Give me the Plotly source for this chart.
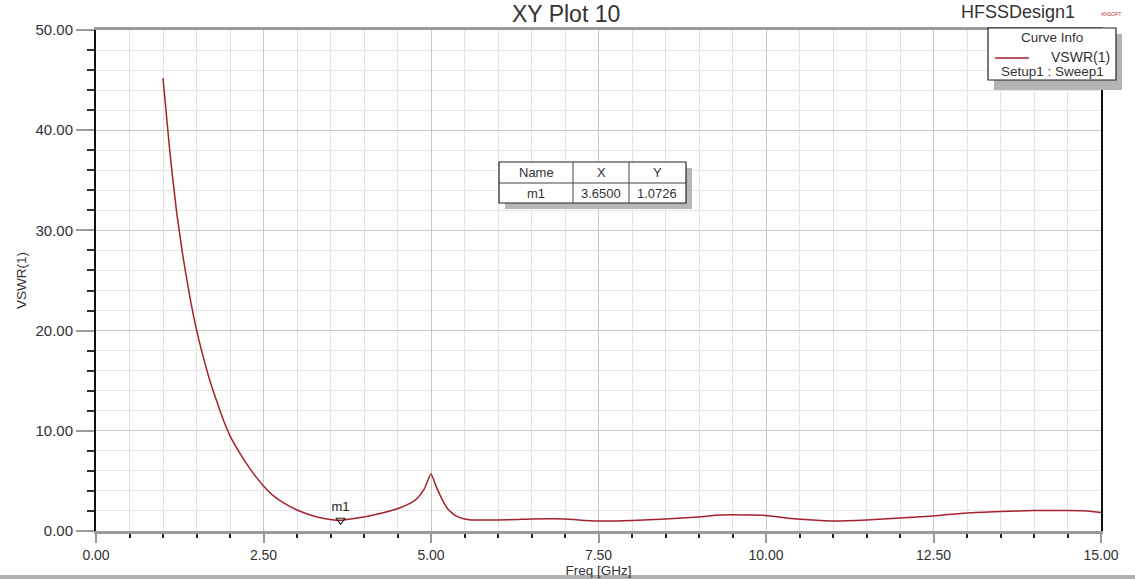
import plotly.graph_objects as go

# ---------------- data ----------------
freq_ghz = [1.0, 1.1, 1.2, 1.3, 1.4, 1.5, 1.6, 1.7, 1.8, 1.9, 2.0, 2.1, 2.2,
            2.3, 2.4, 2.5, 2.65, 2.8, 3.0, 3.2, 3.4, 3.55, 3.65, 3.8, 4.07,
            4.3, 4.53, 4.7, 4.8, 4.9, 5.0, 5.08, 5.17, 5.25, 5.37, 5.5, 5.6,
            6.0, 6.3, 6.5, 7.0, 7.2, 7.5, 8.0, 8.5, 9.0, 9.3, 9.8, 10.0,
            10.3, 10.7, 11.0, 11.5, 12.0, 12.5, 13.0, 13.5, 14.0, 14.5,
            14.8, 15.0]
vswr = [45.2, 38.0, 32.0, 27.3, 23.4, 20.1, 17.4, 15.0, 13.0, 11.1, 9.5, 8.3, 7.2,
        6.2, 5.3, 4.5, 3.5, 2.8, 2.1, 1.6, 1.25, 1.1, 1.07, 1.2, 1.5,
        1.85, 2.3, 2.8, 3.3, 4.2, 5.7, 4.4, 3.1, 2.2, 1.5, 1.2, 1.1,
        1.1, 1.15, 1.2, 1.2, 1.1, 1.0, 1.05, 1.2, 1.4, 1.6, 1.6, 1.55,
        1.3, 1.1, 1.0, 1.1, 1.3, 1.5, 1.8, 1.95, 2.05, 2.05,
        2.0, 1.85]

marker_name = "m1"
marker_x = 3.65
marker_y = 1.0726

x_ticks = [0, 2.5, 5, 7.5, 10, 12.5, 15]
x_tick_labels = ["0.00", "2.50", "5.00", "7.50", "10.00", "12.50", "15.00"]
y_ticks = [0, 10, 20, 30, 40, 50]
y_tick_labels = ["0.00", "10.00", "20.00", "30.00", "40.00", "50.00"]

# ---------------- layout helpers ----------------
W, H = 1135, 579
L, R, T, B = 96, 1101, 30, 531


def px(x):
    return (x - L) / (R - L)


def py(y):
    return (B - y) / (B - T)


FONT = "Liberation Sans, Arial, sans-serif"
CURVE = "#A3232B"


def label(text, x, y, size, xanchor="center", color="#333"):
    return dict(text=text, x=px(x), y=py(y), xref="paper", yref="paper", showarrow=False,
                xanchor=xanchor, yanchor="middle", font=dict(family=FONT, size=size, color=color))


fig = go.Figure()
fig.add_trace(go.Scatter(
    x=freq_ghz, y=vswr, mode="lines", line=dict(color=CURVE, width=1.5, shape="spline", smoothing=0.5),
    hoverinfo="x+y", showlegend=False))
fig.add_trace(go.Scatter(
    x=[marker_x], y=[marker_y], mode="markers+text", text=[marker_name],
    textposition="top center", textfont=dict(family=FONT, size=13, color="#222"),
    marker=dict(symbol="triangle-down-open", size=8, color="#222", line=dict(width=1.2)),
    showlegend=False))

shapes = []
annotations = []

# Curve info box (shadow + box)
shapes.append(dict(type="rect", xref="paper", yref="paper", x0=px(994), x1=px(1122), y0=py(90), y1=py(34),
                   fillcolor="#b4b4b4", line=dict(width=0), layer="above"))
shapes.append(dict(type="rect", xref="paper", yref="paper", x0=px(988), x1=px(1116), y0=py(80), y1=py(28),
                   fillcolor="white", line=dict(color="#222", width=1.2), layer="above"))
shapes.append(dict(type="line", xref="paper", yref="paper", x0=px(995), x1=px(1029), y0=py(58), y1=py(58),
                   line=dict(color=CURVE, width=1.6), layer="above"))
annotations += [
    label("Curve Info", 1052, 38, 13.5),
    label("VSWR(1)", 1112, 57, 14, xanchor="right"),
    label("Setup1 : Sweep1", 1052, 71, 13.5),
]

# Marker table (shadow + box + grid)
tx0, tx1, ty0, ty1 = 499, 686, 162, 203
shapes.append(dict(type="rect", xref="paper", yref="paper", x0=px(tx0 + 6), x1=px(tx1 + 6), y0=py(ty1 + 6), y1=py(ty0 + 6),
                   fillcolor="#b8b8b8", line=dict(width=0), layer="above"))
shapes.append(dict(type="rect", xref="paper", yref="paper", x0=px(tx0), x1=px(tx1), y0=py(ty1), y1=py(ty0),
                   fillcolor="white", line=dict(color="#222", width=1.2), layer="above"))
shapes.append(dict(type="line", xref="paper", yref="paper", x0=px(tx0), x1=px(tx1), y0=py(183), y1=py(183),
                   line=dict(color="#444", width=1), layer="above"))
for cx in (573, 629):
    shapes.append(dict(type="line", xref="paper", yref="paper", x0=px(cx), x1=px(cx), y0=py(ty1), y1=py(ty0),
                       line=dict(color="#444", width=1), layer="above"))
row1 = ["Name", "X", "Y"]
row2 = [marker_name, f"{marker_x:.4f}", f"{marker_y:.4f}"]
for cxp, h, v in zip((536, 601, 657), row1, row2):
    annotations.append(label(h, cxp, 172.5, 13))
    annotations.append(label(v, cxp, 193.5, 13))

# Titles (at the very top edge, as in the reference)
annotations += [
    label("XY Plot 10", 566, 14, 23),
    label("HFSSDesign1", 1018, 12, 18),
    label("ANSOFT", 1111, 14, 5, color="#a33"),
]

# bottom window border band
shapes.append(dict(type="rect", xref="paper", yref="paper", x0=px(0), x1=px(W), y0=py(579), y1=py(575),
                   fillcolor="#b0b0b0", line=dict(width=0), layer="below"))

fig.update_layout(
    width=W, height=H,
    margin=dict(l=L, r=W - R, t=T, b=H - B),
    paper_bgcolor="white", plot_bgcolor="white",
    font=dict(family=FONT, size=13, color="#333"),
    shapes=shapes, annotations=annotations,
    showlegend=False,
)
fig.update_xaxes(
    range=[0, 15], tickvals=x_ticks, ticktext=x_tick_labels, automargin=False,
    showgrid=True, gridcolor="#c9c9c9", gridwidth=1,
    minor=dict(dtick=0.5, tick0=0, showgrid=True, gridcolor="#e3e3e3", ticks="outside",
               ticklen=4, tickcolor="#222", tickwidth=1.5),
    ticks="outside", ticklen=9, tickcolor="#999", tickwidth=2,
    showline=True, linecolor="#9a9a9a", linewidth=3, mirror=True,
    zeroline=False, tickfont=dict(family=FONT, size=14, color="#333"),
    title=dict(text="Freq [GHz]", standoff=3, font=dict(family=FONT, size=13.5, color="#333")),
)
fig.update_yaxes(
    range=[0, 50], tickvals=y_ticks, ticktext=y_tick_labels, automargin=False,
    showgrid=True, gridcolor="#c9c9c9", gridwidth=1,
    minor=dict(dtick=2, tick0=0, showgrid=True, gridcolor="#e6e6e6", ticks="outside",
               ticklen=7, tickcolor="#333", tickwidth=1.5),
    ticks="outside", ticklen=18, tickcolor="#999", tickwidth=2,
    showline=True, linecolor="#111", linewidth=2, mirror=True,
    zeroline=False, tickfont=dict(family=FONT, size=15, color="#333"),
    title=dict(text="VSWR(1)", standoff=6, font=dict(family=FONT, size=13.5, color="#333")),
)

fig.write_html("out.html", config={"displayModeBar": False},
               post_script="document.body.style.margin='0px';document.body.style.overflow='hidden';")
